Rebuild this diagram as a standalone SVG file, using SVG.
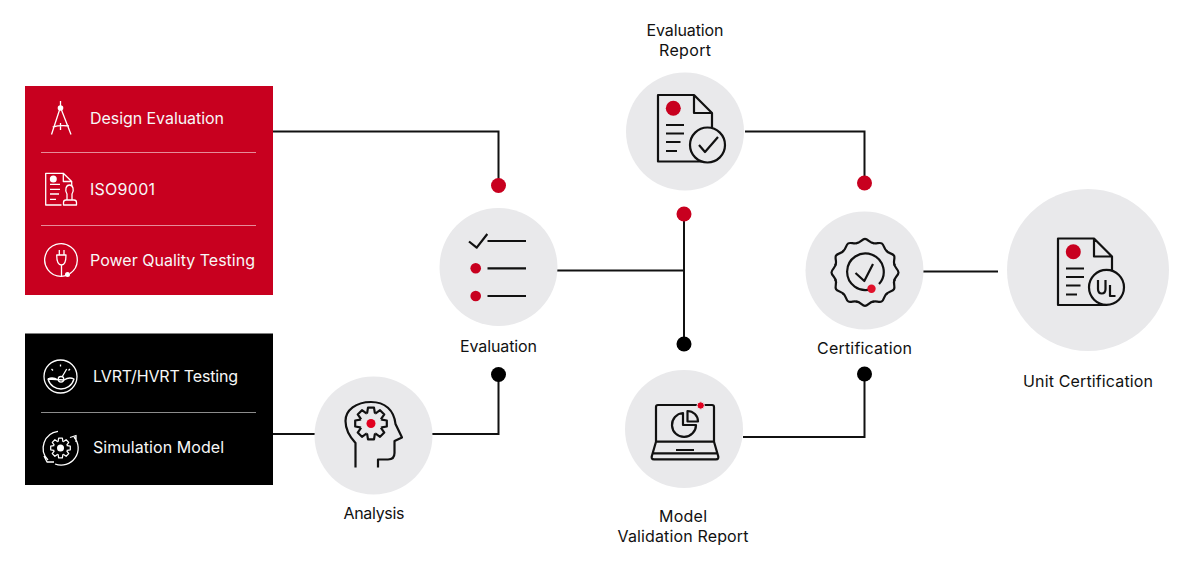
<svg xmlns="http://www.w3.org/2000/svg" width="1200" height="568" viewBox="0 0 1200 568">
<style>
text{font-family:"Inter","Liberation Sans",sans-serif;font-size:16px;fill:#111;text-anchor:middle}
.w{fill:#f7f7f7;text-anchor:start}
.c{fill:#e9e9eb}
.l{fill:none;stroke:#111;stroke-width:2}
.i{fill:none;stroke:#111;stroke-width:2.200;stroke-linejoin:round}
.iw{fill:none;stroke:#fff;stroke-width:1.300;stroke-linejoin:round}
.r{fill:#c8001f}
.k{fill:#000}
.d{stroke:#fff;stroke-opacity:.55;stroke-width:1}
</style>
<defs>
<path id="tooth" d="M-4.200 -10.200L-3.800 -10.800L-3 -15.800H3L3.800 -10.800L4.200 -10.200"/>
<g id="gear">
<use href="#tooth"/><use href="#tooth" transform="rotate(45)"/><use href="#tooth" transform="rotate(90)"/><use href="#tooth" transform="rotate(135)"/><use href="#tooth" transform="rotate(180)"/><use href="#tooth" transform="rotate(225)"/><use href="#tooth" transform="rotate(270)"/><use href="#tooth" transform="rotate(315)"/>
</g>
<path id="wave" d="M-8.700 -29.300C-5 -29 -3 -33.500 0 -33.500C3 -33.500 5 -29 8.700 -29.300"/>
<g id="doc"><path class="i" d="M48 66.500H0V0H36L54 18V33M36 0V18H54"/><circle class="r" cx="15.300" cy="13.300" r="7.500"/><path class="i" d="M8 30H26M8 38.500H26M8 47H22.500M8 56H19"/></g>
</defs>
<g id="connectors">
<path class="l" d="M273 131.500H498.500V185"/>
<path class="l" d="M557 270.500H684"/>
<path class="l" d="M684 214V344"/>
<path class="l" d="M745 131.500H864.500V183"/>
<path class="l" d="M923 271.500H998"/>
<path class="l" d="M743 437H864.500V374"/>
<path class="l" d="M273 434H315"/>
<path class="l" d="M432 434H498.500V374.500"/>
<circle class="r" cx="498.500" cy="185.500" r="7.500"/>
<circle class="r" cx="684" cy="214" r="7.500"/>
<circle class="r" cx="864.500" cy="183" r="7.500"/>
<circle class="k" cx="684" cy="344" r="7.500"/>
<circle class="k" cx="498.500" cy="374.500" r="7.500"/>
<circle class="k" cx="864.500" cy="374" r="7.500"/>
</g>
<g id="red-panel">
<rect x="25" y="86" width="248" height="209" fill="#c8001f"/>
<path class="d" d="M41 152.500H256M41 225.500H256"/>
<g id="design-evaluation">
<path class="iw" d="M60.500 101V107M59.500 110L51.500 134.500M61.500 110L71 134.500M52.700 127C58 125.500 64 125.500 69 126M60.500 123V130"/>
<circle cx="60.500" cy="108" r="2.800" fill="#fff"/>
<text class="w" x="90" y="123.500" textLength="134">Design Evaluation</text>
</g>
<g id="iso9001">
<path class="iw" d="M61.500 205H45.700V173.300H63.300L71.700 181.500V186M63.300 173.300V181.500H71.700"/>
<circle cx="53.300" cy="179" r="3.500" fill="#fff"/>
<path class="iw" d="M50 184.300H60M50 189.300H60M50 194H59M50 199.300H56"/>
<path class="iw" d="M67 200V194C64.500 190 66 185 69.500 185C73 185 74.500 190 72 194V200M63.500 205V202.500Q63.500 200 66 200H74Q76.500 200 76.500 202.500V205Z"/>
<text class="w" x="90" y="195" textLength="65">ISO9001</text>
</g>
<g id="power-quality">
<path class="iw" d="M61.500 276.300A16.300 16.300 0 1 1 70 273.600M61.500 265V276.300C64 276.300 66 275.500 67.500 274.500"/>
<path class="iw" d="M61.500 265C58 265 56.700 261 56.700 255H66C66 261 65 265 61.500 265ZM59.300 255V250M64 255V250"/>
<circle cx="67.500" cy="274.500" r="2.500" fill="#fff"/>
<text class="w" x="90" y="265.500" textLength="165">Power Quality Testing</text>
</g>
</g>
<g id="black-panel">
<rect x="25" y="333.500" width="248" height="151.500" fill="#000"/>
<path class="d" d="M41 412.500H256"/>
<g id="lvrt">
<circle class="iw" cx="60.500" cy="376.500" r="16.500"/>
<path class="iw" d="M48 379C52 377 55 378 58 380M64 380C67 378 70 377 74 379C72 386 66 389 61 389C56 389 50 386 48 379ZM62 377L66.700 369M60.500 364.500V366.500M51.500 369L53 370.500M70 369L68.500 370.500"/>
<circle class="iw" cx="61" cy="379.300" r="2.800"/>
<text class="w" x="93" y="382" textLength="145">LVRT/HVRT Testing</text>
</g>
<g id="simulation">
<path class="iw" d="M58 431.300A17 17 0 0 0 48 460M74 437A17 17 0 0 1 55 464M70 437.500L76 435.500V442M44 456L47 462H54"/>
<circle cx="60.500" cy="448" r="3.500" fill="#fff"/>
<use href="#gear" class="iw" transform="translate(60.500,448) scale(.62)" style="stroke-width:2"/>
<text class="w" x="93" y="453" textLength="131">Simulation Model</text>
</g>
</g>
<g id="analysis">
<circle class="c" cx="373.500" cy="435.500" r="59"/>
<path class="i" d="M355.500 467.500V443C349 436 345.500 429 345.500 421C345.500 410 356 402 371 402C385 402 394 410 395.500 424L402 437.500L394.500 441V453C394.500 457 392 459.500 388 459.500H378V467.500"/>
<use href="#gear" class="i" transform="translate(371,423.500)"/>
<circle cx="371" cy="423.500" r="4.500" fill="#e1001f"/>
<text x="374" y="519" textLength="61">Analysis</text>
</g>
<g id="evaluation">
<circle class="c" cx="498.500" cy="267" r="59"/>
<path class="i" d="M469 241.500L476.700 247.700L487.300 234M487.500 241H526M487.500 268.300H526M487.500 296H526"/>
<circle class="r" cx="475.700" cy="268.300" r="5.300"/>
<circle class="r" cx="475.700" cy="296" r="5.300"/>
<text x="498.500" y="352" textLength="77">Evaluation</text>
</g>
<g id="evaluation-report">
<circle class="c" cx="685" cy="131.500" r="59"/>
<use href="#doc" x="658" y="95"/>
<circle class="i" cx="707.500" cy="145" r="17.500" style="fill:#e9e9eb"/>
<path class="i" d="M699 145L705 152L718 137"/>
<text x="685" y="36" textLength="77">Evaluation</text>
<text x="685" y="56" textLength="52">Report</text>
</g>
<g id="certification">
<circle class="c" cx="864.500" cy="270.500" r="59"/>
<g class="i" transform="translate(865,272.400)">
<use href="#wave"/><use href="#wave" transform="rotate(30)"/><use href="#wave" transform="rotate(60)"/><use href="#wave" transform="rotate(90)"/><use href="#wave" transform="rotate(120)"/><use href="#wave" transform="rotate(150)"/><use href="#wave" transform="rotate(180)"/><use href="#wave" transform="rotate(210)"/><use href="#wave" transform="rotate(240)"/><use href="#wave" transform="rotate(270)"/><use href="#wave" transform="rotate(300)"/><use href="#wave" transform="rotate(330)"/>
</g>
<path class="i" d="M879 284A18.300 18.300 0 1 0 871.500 289"/>
<path class="i" d="M855.500 273L864.300 281L873 264"/>
<circle cx="871.500" cy="288.700" r="4.200" fill="#e1112b"/>
<text x="864.500" y="354" textLength="95">Certification</text>
</g>
<g id="unit-certification">
<circle class="c" cx="1088" cy="270" r="81"/>
<use href="#doc" x="1058" y="238.500"/>
<circle class="i" cx="1106.500" cy="287.300" r="17.500" style="fill:#e9e9eb"/>
<path class="i" d="M1098 280V289C1098 295 1105.500 295 1105.500 289V280M1110 285V296H1115.500"/>
<text x="1088" y="387" textLength="130">Unit Certification</text>
</g>
<g id="model-validation">
<circle class="c" cx="684" cy="429" r="59"/>
<path class="i" d="M656 441.700V407C656 405.800 657 405 658 405H712C713 405 714 405.800 714 407V441.700M656 441.700H714M656 441.700L652 455.500C651 458 652 459.300 654 459.300H716C718 459.300 719 458 718 455.500L714 441.700M652 453.300H718M676 450H694"/>
<path class="i" d="M683 413A12 12 0 1 0 696 425H683ZM687.500 411V421.500H698A10.500 10.500 0 0 0 687.500 411Z"/>
<circle cx="700.700" cy="405.500" r="3.700" fill="#e1001f" stroke="#e9e9eb"/>
<text x="683" y="522" textLength="48">Model</text>
<text x="683" y="542" textLength="131">Validation Report</text>
</g>
</svg>
